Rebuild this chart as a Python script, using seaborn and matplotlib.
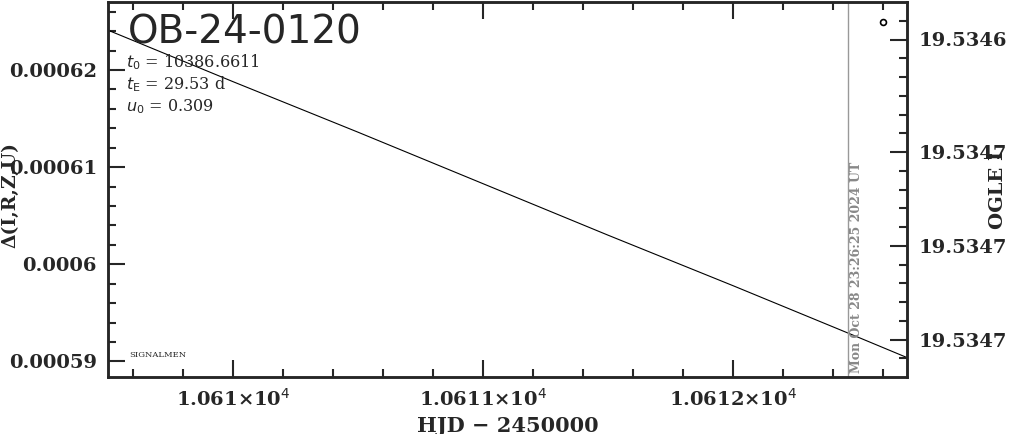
import matplotlib
matplotlib.use("Agg")
import matplotlib.pyplot as plt
import seaborn as sns
import numpy as np

sns.set_style("ticks")
plt.rcParams['font.family'] = ['DejaVu Serif']

# model curve (HJD - 2450000, magnification change)
hjd = [10609.5, 10610.0, 10610.5, 10611.0, 10611.5, 10612.0, 10612.5, 10612.696]
delta = [0.0006241, 0.0006188, 0.0006136, 0.0006083, 0.0006030, 0.0005978, 0.0005925, 0.0005904]
# single observed point
obs_hjd = [10612.6]
obs_delta = [0.0006249]

now_hjd = 10612.46
xlim = (10609.5, 10612.696)
ylim = (0.0005884, 0.0006270)

xticks = [10610, 10611, 10612]
xticklabels = ["1.061×10$^4$", "1.0611×10$^4$", "1.0612×10$^4$"]
yticks = [0.00059, 0.0006, 0.00061, 0.00062]
yticklabels = ["0.00059", "0.0006", "0.00061", "0.00062"]

# OGLE I magnitude axis
mag_lim = (19.53475, 19.53455)
mag_ticks = [19.53457, 19.53463, 19.53468, 19.53473]
mag_labels = ["19.5346", "19.5347", "19.5347", "19.5347"]
mag_minor = [19.534560, 19.534580, 19.534590, 19.534600, 19.534610, 19.534620,
             19.534640, 19.534650, 19.534660, 19.534670,
             19.534690, 19.534700, 19.534710, 19.534720,
             19.534740]

params = [r"$t_0$ = 10386.6611", r"$t_{\rm E}$ = 29.53 d", r"$u_0$ = 0.309"]

fig = plt.figure(figsize=(10.11, 4.34), dpi=100)
ax = fig.add_axes([108/1011, 1 - 377/434, 799/1011, 375/434])

sns.lineplot(x=hjd, y=delta, ax=ax, color="black", linewidth=0.8)
ax.scatter(obs_hjd, obs_delta, s=18, facecolors="white", edgecolors="black", linewidths=1.2, zorder=5)
ax.axvline(now_hjd, color="#999999", linewidth=1.0)

ax.set_xlim(*xlim)
ax.set_ylim(*ylim)
ax.set_xticks(xticks)
ax.set_xticklabels(xticklabels)
ax.set_xticks(np.arange(10609.6, 10612.7, 0.2), minor=True)
ax.set_yticks(yticks)
ax.set_yticklabels(yticklabels)
ax.set_yticks(np.arange(0.000590, 0.000627, 0.000002), minor=True)
ax.tick_params(which="both", direction="in", top=True, right=False, width=1.5,
               labelsize=14, pad=8)
ax.tick_params(which="major", length=12)
ax.tick_params(which="minor", length=6)
for lab in ax.get_xticklabels() + ax.get_yticklabels():
    lab.set_fontweight("bold")
for s in ax.spines.values():
    s.set_linewidth(1.8)

ax.set_xlabel("HJD − 2450000", fontsize=15, fontweight="bold", labelpad=4)
ax.set_ylabel("Δ(I,R,Z,U)", fontsize=13.5, fontweight="bold")
ax.yaxis.set_label_coords(-0.111, 0.485)

ax2 = ax.twinx()
ax2.set_ylim(*mag_lim)
ax2.set_yticks(mag_ticks)
ax2.set_yticklabels(mag_labels)
ax2.set_yticks(mag_minor, minor=True)
ax2.tick_params(which="both", direction="in", width=1.5, labelsize=14, pad=8)
ax2.tick_params(which="major", length=12)
ax2.tick_params(which="minor", length=6)
for lab in ax2.get_yticklabels():
    lab.set_fontweight("bold")
ax2.set_ylabel("OGLE I", fontsize=14, fontweight="bold")
ax2.yaxis.set_label_coords(1.103, 0.5)
for s in ax2.spines.values():
    s.set_linewidth(1.8)

ax.text(0.025, 0.97, "OB-24-0120", transform=ax.transAxes, fontsize=28,
        family="DejaVu Sans", va="top", ha="left")
for i, p in enumerate(params):
    ax.text(0.022, 0.84 - i * 0.06, p, transform=ax.transAxes, fontsize=11.5,
            va="center", ha="left")
ax.text(0.027, 0.059, "SIGNALMEN", transform=ax.transAxes, fontsize=6, va="center")
ax.text(now_hjd + 0.035, 0.01, "Mon Oct 28 23:26:25 2024 UT", transform=ax.get_xaxis_transform(),
        rotation=90, fontsize=9, fontweight="bold", color="#888888", va="bottom", ha="center")

plt.savefig("out.png", dpi=100)
